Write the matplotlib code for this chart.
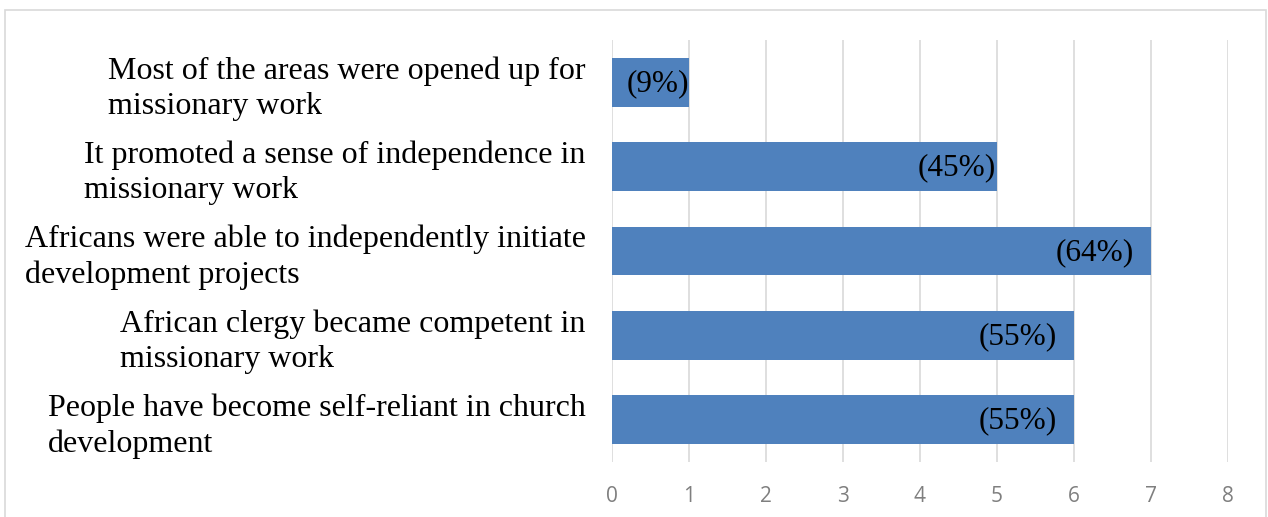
import matplotlib.pyplot as plt
import matplotlib.transforms as mtransforms
from matplotlib.patches import Rectangle

categories = [
    "Most of the areas were opened up for\nmissionary work",
    "It promoted a sense of independence in\nmissionary work",
    "Africans were able to independently initiate\ndevelopment projects",
    "African clergy became competent in\nmissionary work",
    "People have become self-reliant in church\ndevelopment",
]
counts = [1, 5, 7, 6, 6]
percent_labels = ["(9%)", "(45%)", "(64%)", "(55%)", "(55%)"]

# distance (px) of each value label from the end of its bar
label_pads = [0, 1, 17, 17, 17]

fig = plt.figure(figsize=(12.68, 5.17), dpi=100)
ax = fig.add_axes([612 / 1268, 1 - 462 / 517, (1228 - 612) / 1268, 422 / 517])

# chart frame
fig.patches.append(Rectangle((5 / 1268, -0.05), 1261 / 1268, 1.05 - 10 / 517,
                             transform=fig.transFigure, fill=False,
                             edgecolor="#d9d9d9", linewidth=1.2))

ypos = list(range(len(categories)))
ax.barh(ypos, counts, height=0.58, color="#4f81bd", zorder=2)

for y, v, txt, pad in zip(ypos, counts, percent_labels, label_pads):
    ax.annotate(txt, xy=(v, y), xytext=(-pad * 0.72, -1), textcoords="offset points",
                ha="right", va="center", fontsize=22.5, family="Liberation Serif",
                color="black", zorder=3)

ax.set_xlim(0, 8)
ax.set_ylim(len(categories) - 0.5, -0.5)
ax.set_xticks(range(0, 9))
ax.set_yticks(ypos)
ax.set_yticklabels(categories, fontsize=23, family="Liberation Serif", linespacing=1.27)
shift = mtransforms.ScaledTranslation(0, -4 / 100, fig.dpi_scale_trans)
for lbl in ax.get_yticklabels():
    lbl.set_multialignment("left")
    lbl.set_transform(lbl.get_transform() + shift)

ax.tick_params(axis="y", length=0, pad=19)
ax.tick_params(axis="x", length=0, pad=17, labelsize=15, labelcolor="#7f7f7f")
for lbl in ax.get_xticklabels():
    lbl.set_family("Open Sans")

ax.grid(axis="x", color="#d9d9d9", linewidth=1.2, zorder=0)
ax.set_axisbelow(True)
for s in ax.spines.values():
    s.set_visible(False)

fig.savefig("out.png", dpi=100)
